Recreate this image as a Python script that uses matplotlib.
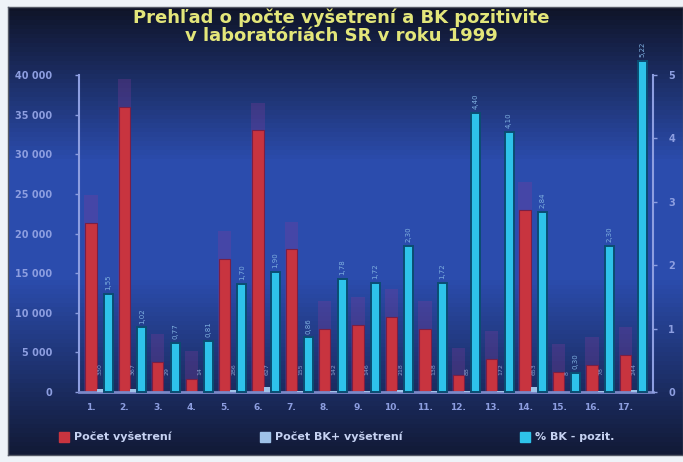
# Prehľad o počte vyšetrení a BK pozitivite v laboratóriách SR (1999)
import matplotlib
matplotlib.use("Agg")
import matplotlib.pyplot as plt
import numpy as np

# dáta odčítané z obrázka
laboratoria = [f"{i}." for i in range(1, 18)]
pocet_vysetreni = [21300, 36000, 3800, 1700, 16800, 33000, 18000, 8000, 8500,
                   9500, 8000, 2100, 4200, 23000, 2500, 3400, 4700]
pocet_bk = [330, 367, 29, 14, 286, 627, 155, 142, 146,
            218, 138, 88, 172, 653, 8, 78, 244]
percento_bk = [1.55, 1.02, 0.77, 0.81, 1.70, 1.90, 0.86, 1.78, 1.72,
               2.30, 1.72, 4.40, 4.10, 2.84, 0.30, 2.30, 5.22]
lave_ticky = [0, 5000, 10000, 15000, 20000, 25000, 30000, 35000, 40000]
lave_popisy = ["0", "5 000", "10 000", "15 000", "20 000", "25 000",
               "30 000", "35 000", "40 000"]
prave_ticky = [0, 1, 2, 3, 4, 5]

W, H = 683, 462
fig = plt.figure(figsize=(W / 100, H / 100), dpi=100)
fig.patch.set_facecolor("#eef3f8")

# pozadie s prechodom
bg = fig.add_axes([8 / W, (H - 455) / H, (W - 8) / W, (455 - 7) / H])
grad = np.concatenate([np.linspace(0, 1, 35), np.ones(25), np.linspace(1, 0.1, 40)])
c_dark = np.array([0.06, 0.08, 0.16])
c_mid = np.array([0.17, 0.30, 0.68])
img = c_dark[None, :] + (c_mid - c_dark)[None, :] * grad[:, None]
bg.imshow(img[:, None, :], aspect="auto", extent=[0, 1, 0, 1])
bg.set_xticks([])
bg.set_yticks([])
for s in bg.spines.values():
    s.set_color("#555a66")
    s.set_linewidth(1)

ax = fig.add_axes([79 / W, (H - 392) / H, (653 - 79) / W, (392 - 75) / H])
ax.patch.set_alpha(0)
ax2 = ax.twinx()

x = np.arange(len(laboratoria))
txt = "#8d9ee0"

# odlesk nad červenými stĺpcami
ax.bar(x, np.array(pocet_vysetreni) + 3500, width=0.4, color="#8a3a9a",
       alpha=0.28, zorder=1, linewidth=0)
ax.bar(x, pocet_vysetreni, width=0.34, color="#c8343f", edgecolor="#7a1f45",
       linewidth=0.8, zorder=2)
ax.bar(x + 0.27, pocet_bk, width=0.2, color="#9fc2e8", zorder=3, linewidth=0)
for xi, v in zip(x, pocet_bk):
    ax.text(xi + 0.27, 2200, str(v), rotation=90, ha="center", va="bottom",
            fontsize=4.5, color="#b8c8f0", alpha=0.7, zorder=4)

ax2.bar(x + 0.52, percento_bk, width=0.27, color="#2ec3ea", edgecolor="#0b4d72",
        linewidth=1.4, zorder=3, clip_on=False)
for xi, v in zip(x, percento_bk):
    ax2.text(xi + 0.52, v + 0.06, f"{v:.2f}".replace(".", ","), rotation=90,
             ha="center", va="bottom", fontsize=5, color="#7fb0e0",
             clip_on=False)

ax.set_xlim(-0.36, 16.83)
ax.set_ylim(0, 40000)
ax2.set_ylim(0, 5)
ax.set_xticks(x)
ax.set_xticklabels(laboratoria)
ax.set_yticks(lave_ticky)
ax.set_yticklabels(lave_popisy)
ax2.set_yticks(prave_ticky)

for a in (ax, ax2):
    a.tick_params(colors=txt, labelsize=7, length=3, width=1)
    for s in a.spines.values():
        s.set_visible(False)
ax.tick_params(axis="x", length=0, pad=8, labelsize=6.5)
ax.tick_params(axis="y", pad=16)
ax2.tick_params(axis="y", pad=8)
for lab in ax.get_xticklabels() + ax.get_yticklabels() + ax2.get_yticklabels():
    lab.set_fontweight("bold")
ax.spines["left"].set_visible(True)
ax.spines["left"].set_color("#8d9ee0")
ax.spines["left"].set_linewidth(1.5)
ax2.spines["right"].set_visible(True)
ax2.spines["right"].set_color("#8d9ee0")
ax2.spines["right"].set_linewidth(1.5)
ax.spines["bottom"].set_visible(True)
ax.spines["bottom"].set_color("#7a88c8")
ax.spines["bottom"].set_linewidth(2)

fig.text(0.5, 1 - 27 / H,
         "Prehľad o počte vyšetrení a BK pozitivite\nv laboratóriách SR v roku 1999",
         ha="center", va="center", fontsize=13, fontweight="bold",
         color="#e3e67a", linespacing=1.0)

# legenda
polozky = [(64, "#c8343f", "Počet vyšetrení"),
           (265, "#9fc2e8", "Počet BK+ vyšetrení"),
           (525, "#2ec3ea", "% BK - pozit.")]
for px, farba, text in polozky:
    fig.patches.append(plt.Rectangle(((px - 5) / W, (H - 442) / H), 10 / W, 10 / H,
                                     transform=fig.transFigure, color=farba))
    fig.text((px + 10) / W, (H - 437) / H, text, ha="left", va="center",
             fontsize=8, fontweight="bold", color="#c6d2f2")

fig.savefig("out.png", dpi=100, facecolor=fig.get_facecolor())
